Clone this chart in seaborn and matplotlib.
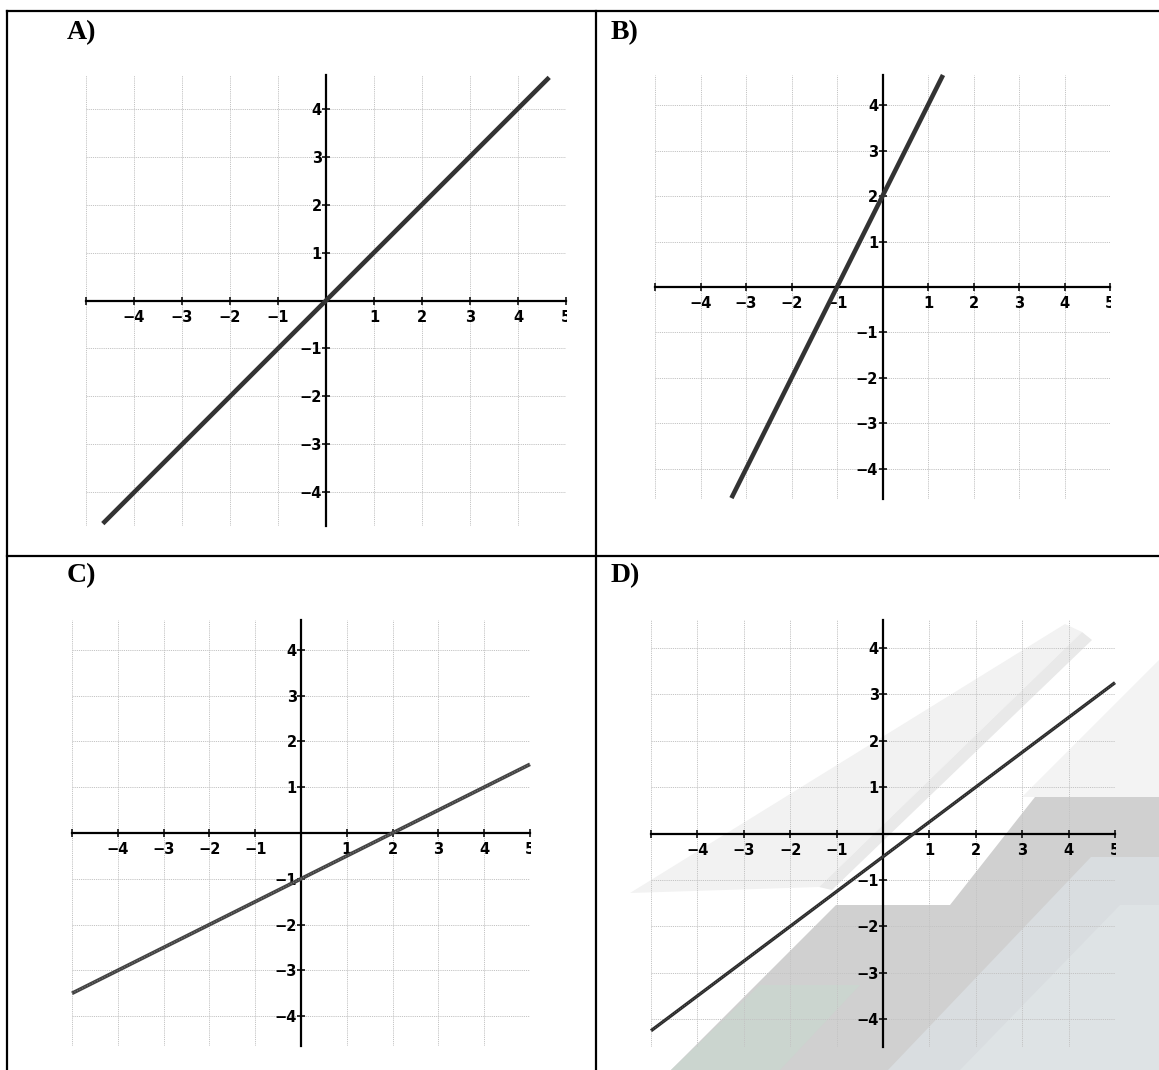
import matplotlib
matplotlib.use("Agg")
import matplotlib.pyplot as plt
import seaborn as sns
import numpy as np
import pandas as pd
from matplotlib.lines import Line2D
from matplotlib.patches import Polygon, Rectangle
from matplotlib.transforms import Bbox, TransformedBbox

sns.set_theme(style="white")
plt.rcParams["font.family"] = ["DejaVu Sans"]
plt.rcParams["lines.solid_capstyle"] = "butt"

# ---------------- data ----------------
panel_labels = ["A)", "B)", "C)", "D)"]
x_ticks = [-5, -4, -3, -2, -1, 0, 1, 2, 3, 4, 5]
x_tick_labels = ["", "−4", "−3", "−2", "−1", "", "1", "2", "3", "4", "5"]
y_ticks = [-4, -3, -2, -1, 0, 1, 2, 3, 4]
y_tick_labels = ["−4", "−3", "−2", "−1", "", "1", "2", "3", "4"]

line_a_x = [-4.65, 4.65]
line_a_y = [-4.65, 4.65]
line_b_x = [-3.32, 1.33]
line_b_y = [-4.64, 4.66]
line_c_x = [-5.0, 5.0]
line_c_y = [-3.5, 1.5]
line_d_x = [-5.0, 5.0]
line_d_y = [-4.25, 3.25]

W, H = 1159, 1070
fig = plt.figure(figsize=(W / 100, H / 100), dpi=100)
fig.patch.set_facecolor("white")


def fx(px):
    return px / W


def fy(py):
    return 1 - py / H


# ---------------- watermark in panel D ----------------
wm_shapes = [
    ([(630, 893), (1065, 624), (1082, 632), (819, 887)], "#f2f2f2"),
    ([(819, 887), (1082, 632), (1092, 640), (832, 890)], "#e9e9e9"),
    ([(1022, 797), (1159, 660), (1159, 797)], "#f3f3f3"),
    ([(671, 1070), (836, 905), (950, 905), (1035, 797), (1159, 797), (1159, 1070)], "#d0d0d0"),
    ([(671, 1070), (760, 985), (860, 985), (780, 1070)], "#cbd5cf"),
    ([(888, 1070), (1091, 857), (1159, 857), (1159, 1070)], "#d9dde0"),
    ([(960, 1070), (1120, 905), (1159, 905), (1159, 1070)], "#dee3e5"),
]
for pts, col in wm_shapes:
    poly = Polygon([(fx(x), fy(y)) for x, y in pts], closed=True,
                   transform=fig.transFigure, facecolor=col, edgecolor="none",
                   zorder=-5)
    fig.patches.append(poly)

# ---------------- panels ----------------
panels = [
    ((86, 75, 566, 526), 4.70, line_a_x, line_a_y, dict(color="#333333", linewidth=3.3), None),
    ((655, 75, 1110, 499), 4.66, line_b_x, line_b_y, dict(color="#333333", linewidth=3.3), None),
    ((72, 620, 530, 1046), 4.65, line_c_x, line_c_y, dict(color="#434343", linewidth=2.7),
     dict(color="#9a9a9a", linewidth=0.8, linestyle=(0, (1, 1.5)), alpha=0.6)),
    ((651, 620, 1115, 1047), 4.60, line_d_x, line_d_y, dict(color="#2a2a2a", linewidth=2.4),
     dict(color="#8a8a8a", linewidth=0.7, linestyle=(0, (1, 1.5)), alpha=0.6)),
]

for (l, t, r, b), yr, lx, ly, style, overlay in panels:
    ax = fig.add_axes([fx(l), fy(b), (r - l) / W, (b - t) / H])
    ax.set_facecolor("none")
    ax.set_xlim(-5.0, 5.0)
    ax.set_ylim(-yr, yr)
    ax.grid(True, color="#c4c4c4", linestyle=(0, (1.2, 1.0)), linewidth=0.7)
    ax.set_axisbelow(True)
    for s in ["top", "right"]:
        ax.spines[s].set_visible(False)
    ax.spines["left"].set_position(("data", 0))
    ax.spines["bottom"].set_position(("data", 0))
    for s in ["left", "bottom"]:
        ax.spines[s].set_linewidth(1.6)
        ax.spines[s].set_color("black")
        ax.spines[s].set_zorder(3)
    ax.set_xticks(x_ticks, labels=x_tick_labels, fontweight="bold", fontsize=10.5)
    ax.set_yticks(y_ticks, labels=y_tick_labels, fontweight="bold", fontsize=10.5)
    ax.tick_params(axis="both", direction="inout", length=5.5, width=1.1,
                   color="black", labelcolor="black")
    ax.tick_params(axis="x", pad=4.0)
    ax.tick_params(axis="y", pad=0.3)
    ax.tick_params(left=True, bottom=True)

    sns.lineplot(x=lx, y=ly, ax=ax, sort=False, zorder=4, clip_on=False, **style)
    if overlay is not None:
        sns.lineplot(x=lx, y=ly, ax=ax, sort=False, zorder=5, clip_on=False, **overlay)
    ax.set_xlabel("")
    ax.set_ylabel("")

    # clip the last x tick label ("5") at the right edge of the plot
    ticks = ax.xaxis.get_major_ticks()
    wpx = r - l
    clipbox = TransformedBbox(Bbox([[-1.0, -1.0], [1.0 + 0.8 / wpx, 2.0]]), ax.transAxes)
    lab5 = ticks[-1].label1
    lab5.set_clip_on(True)
    lab5.set_clip_box(clipbox)
    lab5.set_clip_path(Rectangle((-1.0, -1.0), 2.0 + 0.8 / wpx, 3.0, transform=ax.transAxes))

# ---------------- table borders ----------------
border_lines = [
    ((7, 11), (1159, 11)),
    ((7, 11), (7, 1070)),
    ((596, 11), (596, 1070)),
    ((7, 556), (1159, 556)),
]
for (x0, y0), (x1, y1) in border_lines:
    fig.add_artist(Line2D([fx(x0), fx(x1)], [fy(y0), fy(y1)], transform=fig.transFigure,
                          color="black", linewidth=1.6, solid_capstyle="projecting", zorder=10))

# ---------------- panel labels ----------------
label_pos = [(67, 20), (611, 20), (67, 563), (611, 563)]
for lab, (px, py) in zip(panel_labels, label_pos):
    fig.text(fx(px), fy(py), lab, fontfamily="Liberation Serif", fontweight="bold",
             fontsize=20, ha="left", va="top", color="black")

fig.savefig("out.png", dpi=100)
